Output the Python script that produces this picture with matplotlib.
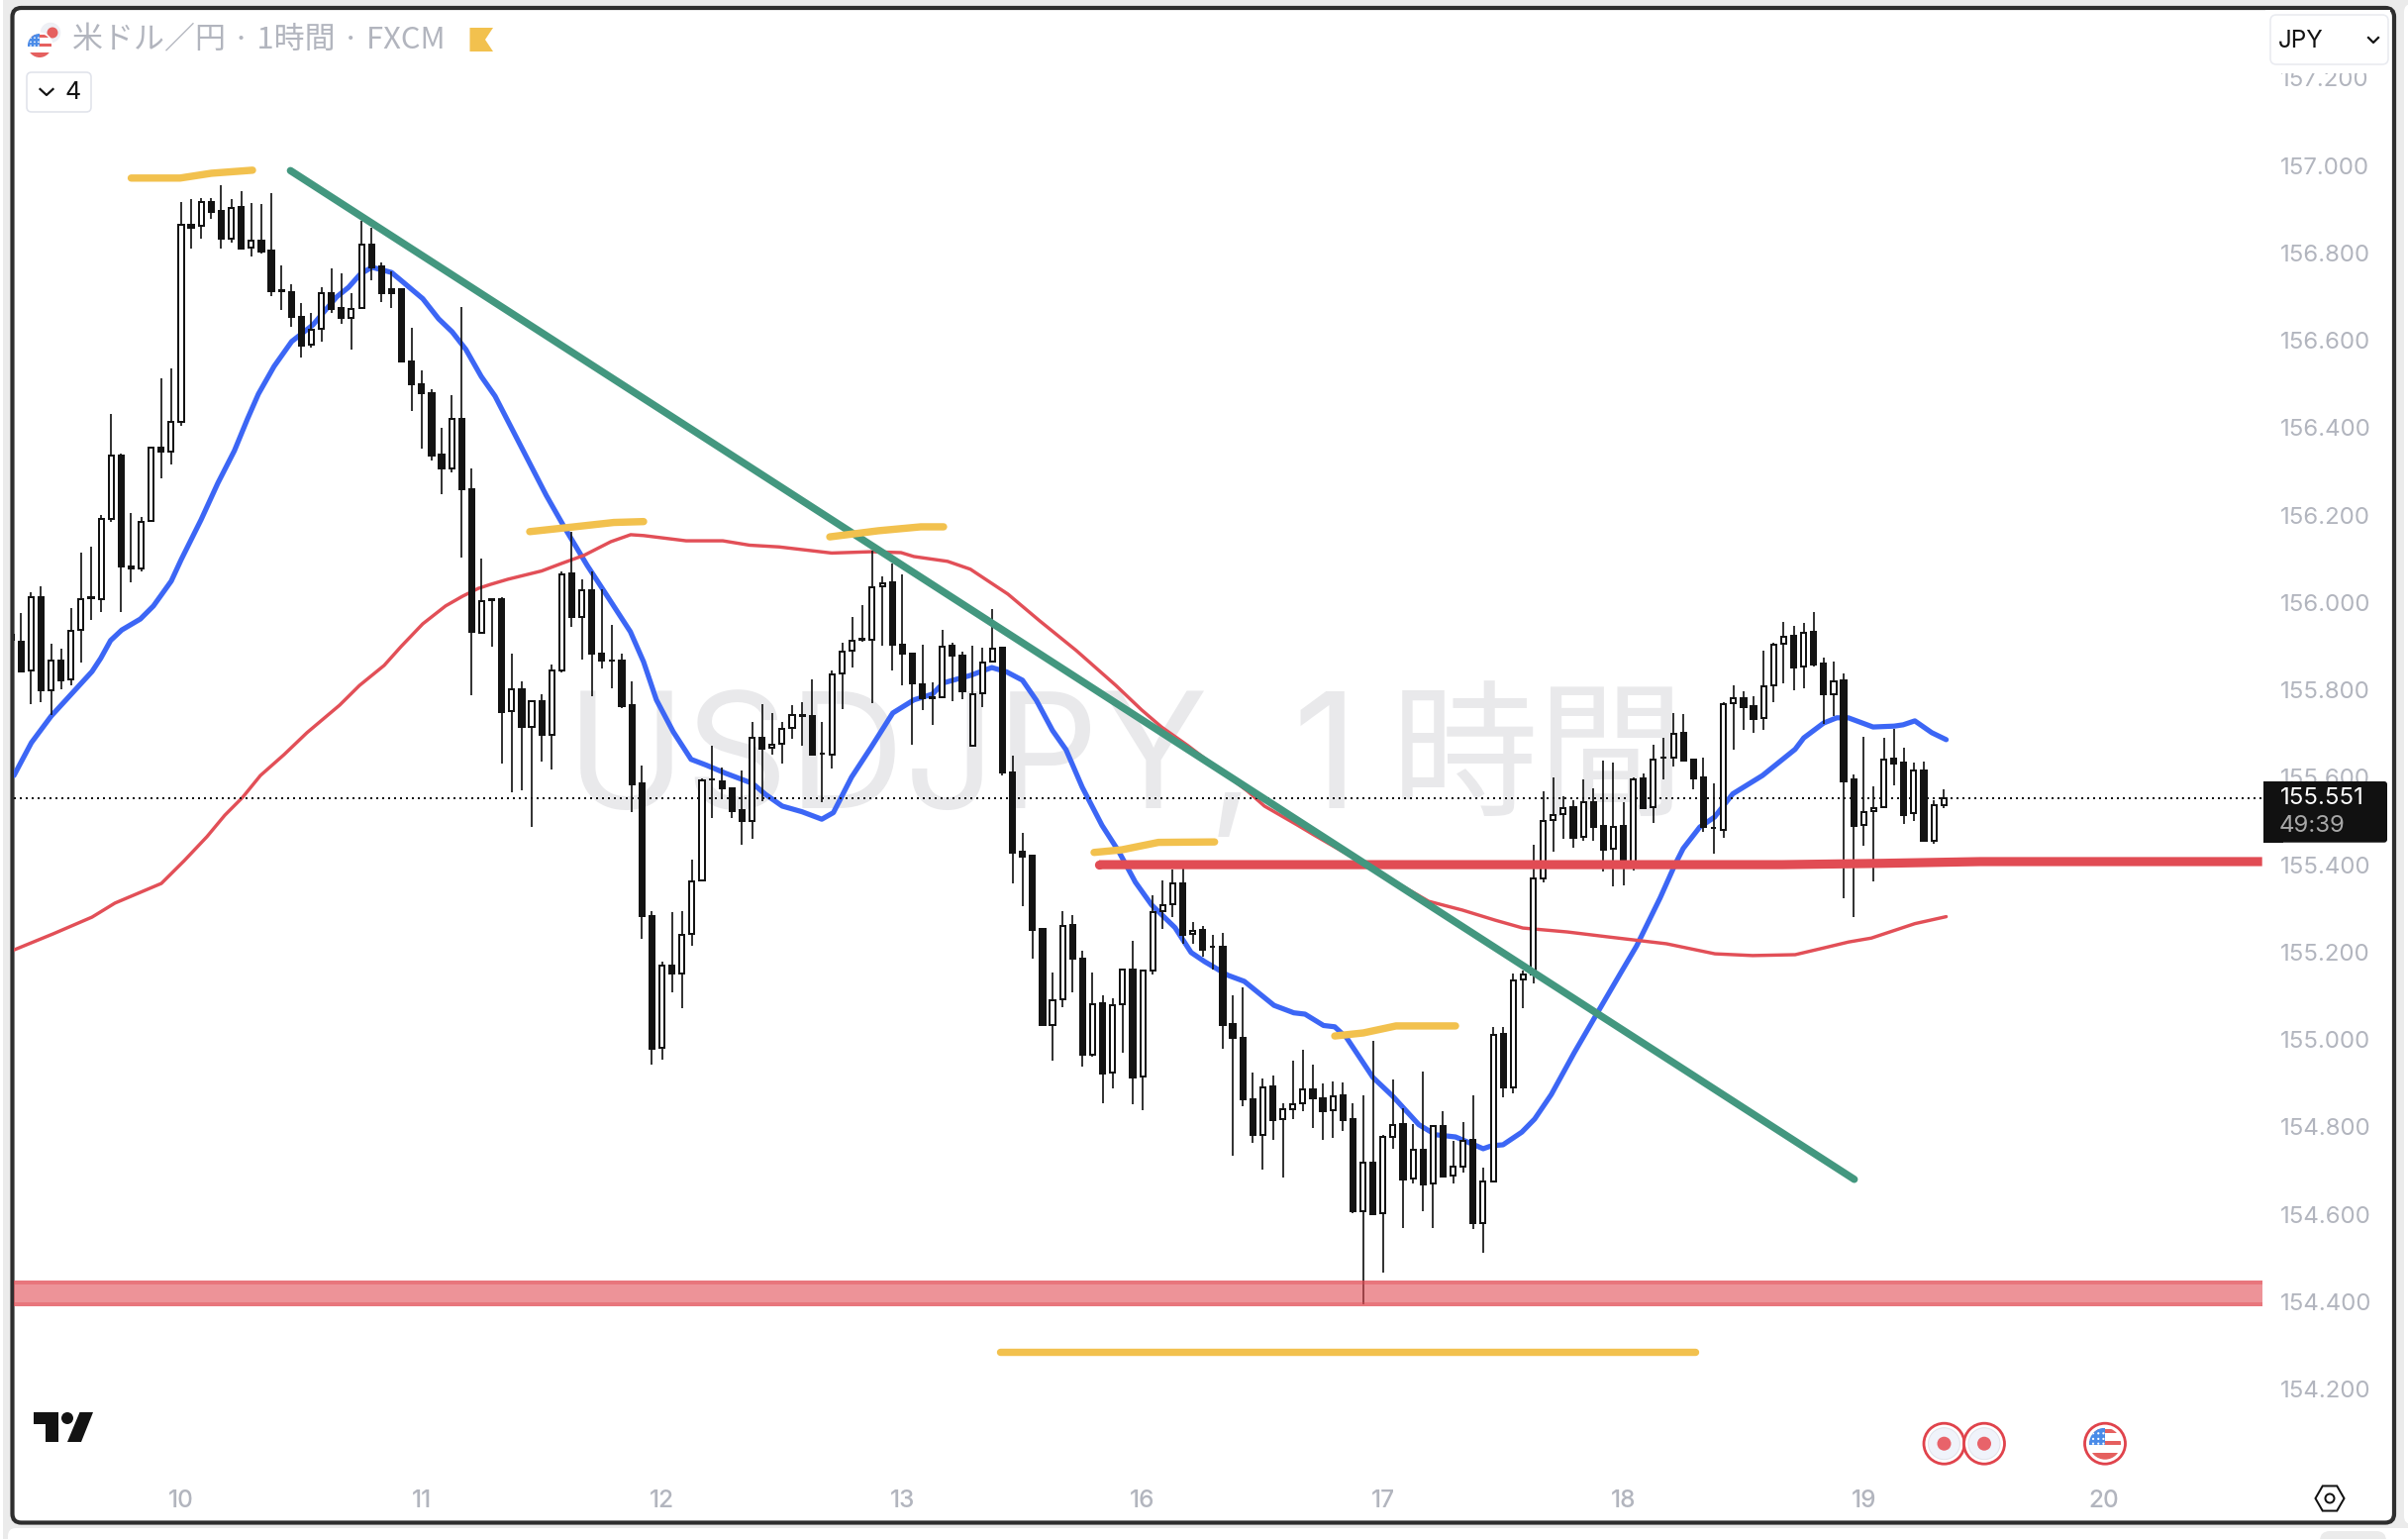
import numpy as np
import matplotlib
matplotlib.use("Agg")
import matplotlib.pyplot as plt
from matplotlib.patches import FancyBboxPatch, Circle, Rectangle, Polygon, Ellipse, RegularPolygon

# ---------- data ----------
opens = [155.925,155.909,155.844,156.011,155.800,155.868,155.824,155.937,156.012,156.008,
 156.191,156.335,156.083,156.078,156.186,156.355,156.345,156.413,156.864,156.861,
 156.917,156.895,156.833,156.904,156.811,156.828,156.804,156.714,156.710,156.654,
 156.589,156.625,156.707,156.673,156.652,156.673,156.819,156.768,156.716,156.716,
 156.552,156.500,156.478,156.338,156.306,156.421,156.258,155.931,156.006,156.007,
 155.751,155.802,155.716,155.775,155.696,155.845,156.066,155.966,156.029,155.883,
 155.868,155.866,155.764,155.585,155.283,154.980,155.170,155.152,155.241,155.363,
 155.596,155.591,155.575,155.524,155.501,155.691,155.667,155.676,155.713,155.742,
 155.739,155.655,155.651,155.837,155.889,155.914,155.915,156.036,156.045,155.904,
 155.883,155.813,155.784,155.783,155.900,155.879,155.672,155.792,155.865,155.896,
 155.610,155.429,155.420,155.252,155.033,155.092,155.261,155.186,154.964,155.082,
 154.924,155.080,155.161,154.915,155.157,155.294,155.309,155.357,155.242,155.250,
 155.213,155.212,155.035,155.003,154.862,154.781,154.892,154.818,154.840,154.854,
 154.885,154.866,154.839,154.872,154.818,154.608,154.718,154.602,154.776,154.806,
 154.681,154.747,154.670,154.802,154.688,154.710,154.770,154.581,154.675,155.012,
 154.891,155.138,155.149,155.368,155.502,155.515,155.531,155.463,155.544,155.488,
 155.436,155.488,155.407,155.597,155.532,155.644,155.645,155.701,155.640,155.599,
 155.485,155.479,155.769,155.780,155.762,155.735,155.810,155.905,155.923,155.853,
 155.932,155.860,155.789,155.821,155.594,155.491,155.522,155.532,155.642,155.633,
 155.517,155.615,155.454,155.536]
highs = [155.940,155.976,156.023,156.038,155.906,155.894,155.986,156.115,156.127,156.199,
 156.431,156.340,156.204,156.196,156.355,156.513,156.535,156.916,156.923,156.925,
 156.926,156.954,156.923,156.942,156.914,156.911,156.936,156.770,156.727,156.685,
 156.662,156.721,156.764,156.753,156.707,156.872,156.857,156.777,156.757,156.716,
 156.628,156.532,156.488,156.399,156.475,156.677,156.306,156.100,156.008,156.013,
 155.883,155.820,155.777,155.789,155.858,156.072,156.161,156.053,156.070,156.031,
 155.948,155.882,155.820,155.626,155.294,155.178,155.291,155.293,155.412,155.597,
 155.673,155.623,155.577,155.616,155.726,155.768,155.748,155.726,155.764,155.771,
 155.825,155.726,155.844,155.907,155.966,155.995,156.118,156.059,156.089,156.063,
 155.883,155.904,155.816,155.938,155.908,155.888,155.900,155.897,155.984,155.896,
 155.649,155.473,155.420,155.252,155.154,155.293,155.284,155.203,155.153,155.102,
 155.095,155.160,155.225,155.160,155.329,155.365,155.388,155.390,155.268,155.259,
 155.239,155.243,155.102,155.120,154.925,154.911,154.918,154.855,154.951,154.976,
 154.942,154.899,154.905,154.902,154.855,154.872,154.996,154.781,154.908,154.843,
 154.806,154.926,154.801,154.835,154.769,154.810,154.872,154.707,155.028,155.028,
 155.151,155.157,155.445,155.567,155.599,155.556,155.547,155.594,155.574,155.637,
 155.634,155.544,155.599,155.608,155.674,155.690,155.748,155.744,155.640,155.644,
 155.585,155.771,155.810,155.796,155.785,155.890,155.907,155.955,155.946,155.952,
 155.977,155.873,155.864,155.838,155.607,155.692,155.579,155.690,155.711,155.668,
 155.634,155.636,155.547,155.573]
lows = [155.900,155.839,155.768,155.771,155.743,155.802,155.811,155.862,155.961,155.979,
 156.185,155.979,156.047,156.070,156.186,156.285,156.316,156.403,156.809,156.833,
 156.878,156.810,156.823,156.810,156.792,156.798,156.701,156.670,156.630,156.561,
 156.583,156.597,156.662,156.638,156.579,156.673,156.738,156.687,156.674,156.552,
 156.438,156.353,156.325,156.248,156.298,156.103,155.788,155.929,155.898,155.632,
 155.566,155.570,155.487,155.636,155.618,155.839,155.944,155.870,155.785,155.848,
 155.804,155.758,155.521,155.230,154.942,154.954,155.108,155.072,155.215,155.363,
 155.507,155.551,155.507,155.446,155.458,155.545,155.652,155.632,155.687,155.673,
 155.652,155.544,155.621,155.757,155.850,155.911,155.770,155.902,155.844,155.811,
 155.674,155.754,155.720,155.783,155.774,155.779,155.672,155.761,155.865,155.605,
 155.358,155.304,155.184,155.032,154.951,155.073,155.107,154.938,154.961,154.855,
 154.889,154.970,154.852,154.838,155.149,155.254,155.280,155.219,155.219,155.189,
 155.161,154.979,154.733,154.848,154.764,154.703,154.771,154.683,154.818,154.837,
 154.798,154.770,154.774,154.791,154.602,154.395,154.601,154.466,154.750,154.569,
 154.670,154.606,154.569,154.687,154.670,154.695,154.566,154.512,154.675,154.867,
 154.876,155.071,155.128,155.360,155.430,155.460,155.439,155.455,155.455,155.385,
 155.351,155.353,155.387,155.530,155.496,155.594,155.625,155.639,155.573,155.474,
 155.426,155.462,155.664,155.709,155.702,155.709,155.771,155.814,155.800,155.804,
 155.853,155.723,155.740,155.324,155.279,155.443,155.362,155.532,155.581,155.494,
 155.501,155.454,155.447,155.530]
closes = [155.915,155.843,156.011,155.798,155.868,155.822,155.936,156.008,156.010,156.190,
 156.335,156.083,156.077,156.185,156.355,156.344,156.412,156.864,156.858,156.917,
 156.894,156.833,156.903,156.810,156.828,156.802,156.713,156.712,156.653,156.588,
 156.624,156.707,156.672,156.651,156.672,156.819,156.766,156.708,156.708,156.552,
 156.500,156.478,156.336,156.306,156.421,156.258,155.932,156.002,156.008,155.750,
 155.801,155.715,155.775,155.696,155.844,156.065,155.966,156.028,155.883,155.866,
 155.866,155.762,155.584,155.283,154.979,155.170,155.152,155.239,155.362,155.593,
 155.594,155.575,155.523,155.501,155.690,155.666,155.674,155.711,155.742,155.740,
 155.652,155.653,155.836,155.888,155.912,155.916,156.035,156.044,155.904,155.883,
 155.814,155.781,155.782,155.899,155.879,155.797,155.791,155.863,155.895,155.610,
 155.428,155.419,155.251,155.032,155.090,155.260,155.186,154.964,155.081,154.923,
 155.079,155.160,154.914,155.157,155.292,155.308,155.356,155.240,155.249,155.206,
 155.211,155.034,155.003,154.862,154.781,154.891,154.816,154.840,154.852,154.885,
 154.866,154.837,154.871,154.816,154.606,154.717,154.601,154.776,154.805,154.680,
 154.747,154.668,154.801,154.687,154.710,154.769,154.580,154.674,155.011,154.890,
 155.136,155.149,155.368,155.501,155.514,155.530,155.462,155.544,155.487,155.435,
 155.487,155.407,155.596,155.530,155.641,155.646,155.700,155.639,155.598,155.487,
 155.483,155.768,155.780,155.761,155.734,155.809,155.904,155.922,155.852,155.931,
 155.859,155.789,155.820,155.591,155.489,155.521,155.530,155.641,155.632,155.514,
 155.615,155.454,155.536,155.551]
first_bar = -17

fast_bar = [-16.7,-14.96,-12.98,-11.5,-8.9,-8.04,-7.05,-5.93,-4.08,-2.77,-0.99,0,1.98,3.66,5.31,6.62,7.71,9.27,
 11.03,13.15,15.52,16.71,17.87,19.04,21.0,22.15,24.12,25.7,27.06,28.42,29.96,31.34,36.45,38.26,40.53,42.5,
 44.85,46.17,47.45,49.13,50.91,52.4,54.37,57.04,58.33,60.01,61.99,63.96,65.12,66.93,68.9,71.05,73.16,75.0,
 76.12,78.8,80.94,82.42,84.0,85.39,87.0,88.35,89.97,91.94,93.62,95.27,96.89,99.23,100.84,102.2,104.5,106.15,
 109.12,111.09,112.21,114.06,115.18,116.36,119.0,120.98,123.58,125.26,127.24,128.89,130.0,130.87,131.98,
 133.86,135.14,136.8,139.1,141.38,143.7,145.32,147.67,149.15,149.97,151.63,153.11,154.92,157.89,161.15,
 162.01,163.99,165.3,166.46,168.93,171.04,171.93,173.1,174.79,176.23]
fast_ma = [155.604,155.679,155.740,155.777,155.842,155.872,155.913,155.937,155.962,155.992,156.049,156.098,156.189,
 156.273,156.347,156.420,156.477,156.540,156.597,156.635,156.699,156.721,156.751,156.767,156.755,156.733,
 156.695,156.649,156.619,156.579,156.517,156.472,156.245,156.172,156.085,156.016,155.933,155.864,155.777,
 155.704,155.641,155.628,155.609,155.586,155.561,155.534,155.521,155.504,155.519,155.600,155.669,155.747,
 155.777,155.790,155.816,155.833,155.851,155.841,155.822,155.776,155.707,155.663,155.577,155.490,155.430,
 155.360,155.308,155.256,155.199,155.178,155.147,155.133,155.078,155.061,155.058,155.032,155.029,155.004,
 154.913,154.870,154.805,154.782,154.777,154.761,154.750,154.757,154.759,154.788,154.818,154.874,154.970,
 155.060,155.151,155.214,155.324,155.400,155.437,155.486,155.509,155.562,155.604,155.664,155.690,155.724,
 155.736,155.736,155.715,155.717,155.720,155.729,155.702,155.686]
slow_bar = [-16.9,-12.75,-8.9,-6.62,-1.98,0.3,2.57,4.35,6.13,7.91,10.28,12.56,15.82,17.8,20.27,21.95,24.12,26.4,
 28.08,29.66,30.85,32.62,35.99,37.96,40.24,42.9,44.88,46.17,50.42,54.08,56.75,59.71,64.95,68.91,71.87,73.16,
 76.52,78.8,82.55,85.71,89.37,93.33,95.9,97.88,100.54,106.48,108.16,111.42,113.1,124.57,127.93,131.19,133.96,
 138.41,142.36,148.3,153.14,156.9,161.15,164.11,166.48,168.76,173.1,176.23]
slow_ma = [155.203,155.242,155.280,155.312,155.357,155.409,155.464,155.513,155.554,155.604,155.652,155.702,155.765,
 155.810,155.856,155.899,155.951,155.992,156.014,156.032,156.041,156.053,156.072,156.089,156.108,156.139,
 156.155,156.153,156.141,156.141,156.131,156.127,156.113,156.116,156.114,156.105,156.094,156.076,156.019,
 155.958,155.890,155.810,155.754,155.715,155.672,155.568,155.534,155.491,155.468,155.316,155.296,155.273,
 155.255,155.246,155.235,155.219,155.196,155.192,155.194,155.210,155.223,155.232,155.265,155.281]

trend_bar = [10.91, 167.05]
trend_price = [156.988, 154.680]
support_bar = [91.65, 159.86, 169.75, 179.6, 207.78]
support_price = [155.400, 155.400, 155.403, 155.407, 155.407]
band_low, band_high = 154.390, 154.448
band_edge = 0.009
strokes = [
    ([-4.99, -0.1, 3.02, 7.12], [156.971, 156.971, 156.982, 156.989]),
    ([34.8, 39.25, 43.2, 46.17], [156.162, 156.173, 156.183, 156.185]),
    ([64.76, 69.6, 73.85, 76.12], [156.150, 156.164, 156.173, 156.173]),
    ([91.15, 93.92, 97.58, 103.18], [155.428, 155.434, 155.451, 155.452]),
    ([115.18, 118.04, 121.3, 127.24], [155.008, 155.015, 155.031, 155.031]),
    ([81.76, 151.16], [154.285, 154.285]),
]
price_ticks = [154.2, 154.4, 154.6, 154.8, 155.0, 155.2, 155.4, 155.6, 155.8, 156.0,
               156.2, 156.4, 156.6, 156.8, 157.0, 157.2]
day_bars = [0, 24, 48, 72, 96, 120, 144, 168, 192]
day_labels = ['10', '11', '12', '13', '16', '17', '18', '19', '20']
last_price = 155.551

# ---------- layout ----------
W, H = 2432, 1554
PX = 0.72  # points per pixel at dpi 100
INK = '#131313'
GREY = '#b2b5be'
JP = ['Noto Sans CJK JP', 'DejaVu Sans']
LAT = ['Inter', 'Noto Sans CJK JP', 'DejaVu Sans']

fig = plt.figure(figsize=(W/100, H/100), dpi=100, facecolor='#ebebeb')

def ui_axes(z):
    a = fig.add_axes([0, 0, 1, 1], zorder=z)
    a.set_xlim(0, W); a.set_ylim(H, 0); a.axis('off'); a.patch.set_alpha(0)
    return a

back = ui_axes(0)
front = ui_axes(5)

# surrounding panels
back.add_patch(Rectangle((0, 0), 2.5, H, fc='white', ec='none'))
back.add_patch(FancyBboxPatch((2428, 4), 40, 1535, boxstyle='round,pad=0,rounding_size=8', fc='white', ec='none'))
back.add_patch(FancyBboxPatch((8, 1543), 2440, 40, boxstyle='round,pad=0,rounding_size=8', fc='white', ec='none'))
back.add_patch(FancyBboxPatch((2343, 1546), 67, 30, boxstyle='round,pad=0,rounding_size=10', fc='#ebebeb', ec='none'))
# chart frame
back.add_patch(FancyBboxPatch((12.5, 8), 2405.5, 1529.5, boxstyle='round,pad=0,rounding_size=9',
                              fc='white', ec='#2e2e2e', lw=4.2*PX))
# watermark
wm = dict(color='#e9e9eb', ha='left', va='baseline', family=['Inter', 'Noto Sans CJK JP'])
back.text(572, 816, 'USDJPY,', fontsize=117, **wm)
back.text(1305, 816, '1', fontsize=117, **wm)
back.text(1405, 812, '時間', fontsize=107, **wm)

# ---------- main chart ----------
L, R, T, B = 14, 2285, 10, 1490
ax = fig.add_axes([L/W, 1-B/H, (R-L)/W, (B-T)/H], zorder=1)
ax.patch.set_alpha(0)
bar0_px, bar_w = 183.0, 10.115
p0_px, p_scale = 167.0, 441.3
ax.set_xlim((L-bar0_px)/bar_w, (R-bar0_px)/bar_w)
ax.set_ylim(157-(B-p0_px)/p_scale, 157-(T-p0_px)/p_scale)
for s in ax.spines.values():
    s.set_visible(False)
ax.yaxis.tick_right()
ax.set_yticks(price_ticks, [f'{p:.3f}' for p in price_ticks])
ax.set_xticks(day_bars, day_labels)
ax.tick_params(axis='y', length=0, pad=18*PX, labelsize=17.3, labelcolor=GREY)
ax.tick_params(axis='x', length=0, pad=14.5*PX, labelsize=17.5, labelcolor=GREY)
for t in ax.get_yticklabels():
    t.set_family(LAT)
for t in ax.get_xticklabels():
    t.set_family(LAT); t.set_fontweight('medium')

o, h, l, c = map(np.array, (opens, highs, lows, closes))
bars = np.arange(len(o)) + first_bar

ax.plot(fast_bar, fast_ma, color='#3c66f5', lw=5.2*PX, zorder=2, solid_capstyle='round', solid_joinstyle='round')
ax.plot(slow_bar, slow_ma, color='#e24f57', lw=3.4*PX, zorder=2, solid_capstyle='round', solid_joinstyle='round')
ax.axhline(last_price, color='#111111', lw=2*PX, ls=(0, (1, 2)), zorder=2.5)

ax.vlines(bars, l, h, color=INK, lw=1.7*PX, zorder=3)
up = c >= o
ax.bar(bars[up], (c-o)[up], bottom=o[up], width=0.50, facecolor='white', edgecolor=INK, linewidth=2*PX, zorder=4)
ax.bar(bars[~up], (c-o)[~up], bottom=o[~up], width=0.52, facecolor=INK, edgecolor=INK, linewidth=2*PX, zorder=4)

ax.axhspan(band_low, band_high, color='#e14c54', alpha=0.6, lw=0, zorder=5)
ax.axhspan(band_high-band_edge, band_high, color='#e14c54', alpha=0.4, lw=0, zorder=5)
ax.axhspan(band_low, band_low+band_edge, color='#e14c54', alpha=0.4, lw=0, zorder=5)

ax.plot(support_bar, support_price, color='#e14c54', lw=9.2*PX, solid_capstyle='butt', zorder=6)
ax.plot(support_bar[:1], support_price[:1], 'o', ms=9.2*PX, color='#e14c54', mew=0, zorder=6)
ax.plot(trend_bar, trend_price, color='#43977f', lw=7.4*PX, solid_capstyle='round', zorder=6)
for sx, sy in strokes:
    ax.plot(sx, sy, color='#f2c14e', lw=7.4*PX, solid_capstyle='round', solid_joinstyle='round', zorder=7)

# ---------- UI chrome ----------
def flag(a, cx, cy, r, z=10):
    disc = Circle((cx, cy), r, fc='white', ec='none', zorder=z)
    a.add_patch(disc)
    bands = [(-0.95, .3), (-0.2, .3), (0.55, .5)]
    for y0, hh in bands:
        p = Rectangle((cx-r, cy+y0*r), 2*r, hh*r, fc='#e5605f', ec='none', zorder=z+.1)
        a.add_patch(p); p.set_clip_path(disc)
    p = Rectangle((cx-r, cy-r), r, r*1.1, fc='#4a8be8', ec='none', zorder=z+.2)
    a.add_patch(p); p.set_clip_path(disc)
    for dy in (-.65, -.3, .0):
        for dx in (-.75, -.42, -.1):
            d = Circle((cx+dx*r, cy+dy*r), r*.07, fc='white', ec='none', zorder=z+.3)
            a.add_patch(d); d.set_clip_path(disc)

# header
front.add_patch(Circle((51, 33), 11, fc='#eef0f5', ec='white', lw=1, zorder=9))
front.add_patch(Circle((53, 33), 5.5, fc='#e5605f', ec='none', zorder=9.5))
front.add_patch(Circle((40, 46), 13.5, fc='white', ec='none', zorder=9.8))
flag(front, 40, 46, 12)
front.text(73, 41, '米ドル／円 · 1時間 · FXCM', fontsize=22.3, color=GREY, ha='left', va='center', family=JP)
front.add_patch(Polygon([(474.5, 28), (498, 28), (490, 40), (498, 52), (474.5, 52)], fc='#f2c14e', ec='none'))
front.add_patch(FancyBboxPatch((27, 73), 65, 40, boxstyle='round,pad=0,rounding_size=5', fc='white', ec='#e0e3eb', lw=1.6*PX))
front.plot([40.5, 47, 53.5], [90, 96, 90], color=INK, lw=2.2*PX)
front.text(73.5, 94, '4', fontsize=18, color=INK, ha='center', va='center', family=LAT)

# currency selector
front.add_patch(Rectangle((2288, 10), 126, 63.5, fc='white', ec='none', zorder=3))
front.add_patch(FancyBboxPatch((2293, 15), 119, 50, boxstyle='round,pad=0,rounding_size=6', fc='white', ec='#e9ebf0', lw=1.6*PX, zorder=4))
front.text(2300.5, 41, 'JPY', fontsize=17.5, color=INK, ha='left', va='center', family=LAT, zorder=5)
front.plot([2392, 2397, 2402], [38, 43, 38], color=INK, lw=2.2*PX, zorder=5)

# last price tag
front.add_patch(FancyBboxPatch((2286, 789), 125, 61.7, boxstyle='round,pad=0,rounding_size=3', fc='#111111', ec='none', zorder=6))
front.add_patch(Rectangle((2286, 789), 20, 61.7, fc='#111111', ec='none', zorder=6))
front.text(2303, 806.5, f'{last_price:.3f}', fontsize=17.3, color='white', ha='left', va='center', family=LAT, zorder=7)
front.text(2302, 834, '49:39', fontsize=17.3, color='#a8a8a8', ha='left', va='center', family=LAT, zorder=7)

# TradingView logo
front.add_patch(Polygon([(34, 1426), (59, 1426), (59, 1456), (46, 1456), (46, 1438), (34, 1438)], fc=INK, ec='none'))
front.add_patch(Ellipse((68, 1432), 12, 12, fc=INK, ec='none'))
front.add_patch(Polygon([(80.5, 1426), (94, 1426), (82, 1456), (68, 1456)], fc=INK, ec='none'))

# event markers
for cx in (1963.5, 2004):
    front.add_patch(Circle((cx, 1457.7), 20.5, fc='white', ec='#e0434c', lw=2.8*PX, zorder=6))
    front.add_patch(Circle((cx, 1457.7), 16, fc='#f0f3fa', ec='#e0e3eb', lw=1*PX, zorder=6.2))
    front.add_patch(Circle((cx, 1457.7), 7, fc='#e8636a', ec='none', zorder=6.4))
front.add_patch(Circle((2126, 1457.7), 20.5, fc='white', ec='#e0434c', lw=2.8*PX, zorder=6))
flag(front, 2126, 1457.7, 16, z=7)

# settings hexagon
front.add_patch(RegularPolygon((2353, 1513), 6, radius=14.5, orientation=np.pi/2, fc='white', ec='#111111', lw=2*PX))
front.add_patch(Circle((2353, 1513), 4.5, fc='white', ec='#111111', lw=2*PX))

fig.savefig('out.png', dpi=100, facecolor=fig.get_facecolor())
